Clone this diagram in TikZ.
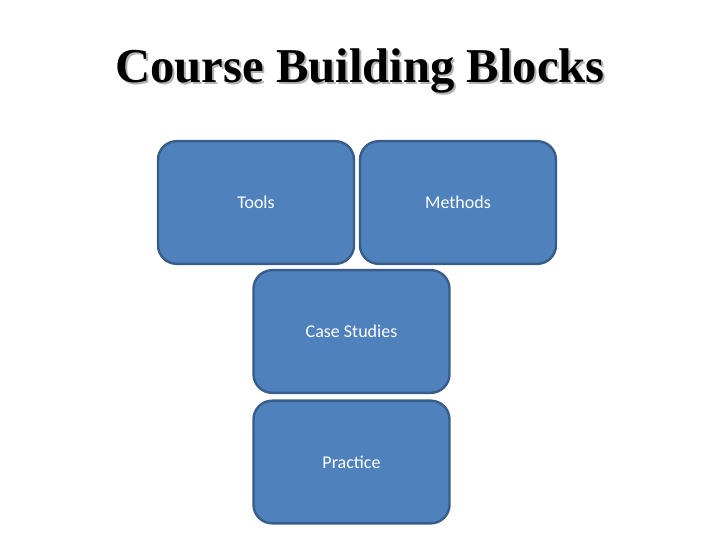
\documentclass[tikz,border=0pt]{standalone}
\usepackage{fontspec}
\setmainfont{Carlito}
\newfontfamily\titlefont{Liberation Serif}
\usetikzlibrary{positioning}
\definecolor{blockFill}{HTML}{4F81BD}
\definecolor{blockLine}{HTML}{385D8A}

\begin{document}
\begin{tikzpicture}[x=0.75pt,y=-0.75pt,
	Block/.style={rectangle,rounded corners=14pt,fill=blockFill,draw=blockLine,line width=1.8pt,
		minimum width=147pt,minimum height=92pt,text=white,font=\fontsize{13.5}{16}\selectfont},
	Title/.style={font=\titlefont\bfseries\fontsize{36.5}{40}\selectfont},
]
	\useasboundingbox (0,0) rectangle (720,540);
	%\draw[help lines,step=10,gray!20] (0,0) grid (720,540);
	\node[Title,text=black!30] (Shadow) at (362,73) {Course Building Blocks};
	\node[Title] (Heading) at (360,71) {Course Building Blocks};
	\node[Block] (Tools) at (256,202.5) {Tools};
	\node[Block] (Methods) at (458,202.5) {Methods};
	\node[Block] (Cases) at (351.5,331.5) {Case Studies};
	\node[Block] (Practice) at (351.5,462) {Practice};
\end{tikzpicture}
\end{document}
